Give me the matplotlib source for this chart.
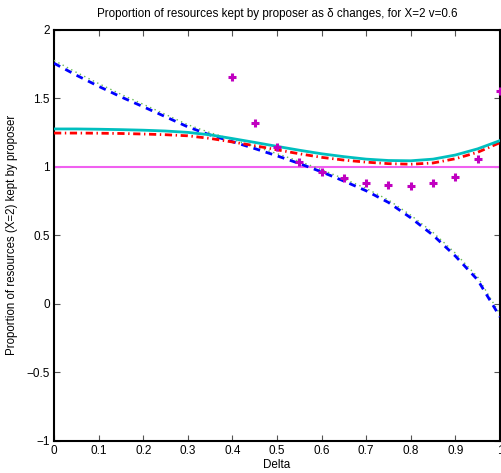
import matplotlib
matplotlib.use("Agg")
import matplotlib.pyplot as plt
import numpy as np

plt.rcParams['font.family'] = ['Liberation Sans', 'DejaVu Sans']

delta = [0.0, 0.05, 0.1, 0.15, 0.2, 0.25, 0.3, 0.35, 0.4, 0.45, 0.5,
         0.55, 0.6, 0.65, 0.7, 0.75, 0.8, 0.85, 0.9, 0.95, 1.0]

blue_dashed = [1.754, 1.667, 1.586, 1.509, 1.437, 1.364, 1.29, 1.231, 1.182, 1.132, 1.079,
               1.023, 0.962, 0.895, 0.824, 0.739, 0.627, 0.50, 0.348, 0.174, -0.095]
green_dotted = [1.775, 1.688, 1.606, 1.528, 1.455, 1.381, 1.306, 1.248, 1.198, 1.148, 1.095,
                1.039, 0.978, 0.912, 0.841, 0.757, 0.646, 0.52, 0.369, 0.195, -0.075]
cyan_solid = [1.275, 1.275, 1.273, 1.27, 1.266, 1.26, 1.25, 1.232, 1.205, 1.177, 1.148,
              1.12, 1.094, 1.073, 1.055, 1.045, 1.043, 1.055, 1.085, 1.13, 1.19]
red_dashdot = [1.245, 1.245, 1.244, 1.242, 1.238, 1.233, 1.225, 1.206, 1.18, 1.153, 1.123,
               1.094, 1.068, 1.048, 1.033, 1.022, 1.018, 1.027, 1.058, 1.105, 1.175]

plus_x = [0.4, 0.45, 0.5, 0.55, 0.6, 0.65, 0.7, 0.75, 0.8, 0.85, 0.9, 0.95, 1.0]
plus_y = [1.652, 1.32, 1.141, 1.032, 0.964, 0.915, 0.883, 0.867, 0.862, 0.879, 0.923, 1.054, 1.554]

ref_x = [0.0, 1.0]
ref_y = [1.0, 1.0]

xticks = [0, 0.1, 0.2, 0.3, 0.4, 0.5, 0.6, 0.7, 0.8, 0.9, 1]
xticklabels = ['0', '0.1', '0.2', '0.3', '0.4', '0.5', '0.6', '0.7', '0.8', '0.9', '1']
yticks = [-1, -0.5, 0, 0.5, 1, 1.5, 2]
yticklabels = ['\u22121', '\u22120.5', '0', '0.5', '1', '1.5', '2']

fig = plt.figure(figsize=(5.02, 4.73), dpi=100)
ax = fig.add_axes([0.1076, 0.0677, 0.8884, 0.8699])

ax.plot(ref_x, ref_y, color='#f060f0', lw=1.5, zorder=2)
ax.plot(delta, green_dotted, color='#66bb55', lw=1.0, ls=(0, (1, 2.5)), zorder=3)
ax.plot(delta, blue_dashed, color='#0000ff', lw=2.0, ls=(0, (2.5, 2.1)), zorder=4)
ax.plot(delta, red_dashdot, color='#ff0000', lw=2.0, ls=(0, (2.6, 1.3, 0.5, 1.3)), zorder=4)
ax.plot(delta, cyan_solid, color='#00bfbf', lw=2.0, zorder=5)
ax.plot(plus_x, plus_y, ls='none', marker='+', markersize=6, color='#c000c0',
        markeredgewidth=2.2, zorder=6, clip_on=False)

ax.set_xlim(0, 1)
ax.set_ylim(-1, 2)
ax.set_xticks(xticks)
ax.set_xticklabels(xticklabels)
ax.set_yticks(yticks)
ax.set_yticklabels(yticklabels)
ax.tick_params(direction='in', length=4, width=0.8, labelsize=8.5,
               top=True, right=True, pad=3, colors='#555555', labelcolor='black')
for s in ax.spines.values():
    s.set_linewidth(1.5)
    s.set_color('black')

ax.set_title('Proportion of resources kept by proposer as \u03b4 changes, for X=2 v=0.6',
             fontsize=8.4, pad=9)
ax.set_xlabel('Delta', fontsize=8.4, labelpad=1)
ax.set_ylabel('Proportion of resources (X=2) kept by proposer', fontsize=8.3, labelpad=6)

fig.savefig('out.png', dpi=100)
